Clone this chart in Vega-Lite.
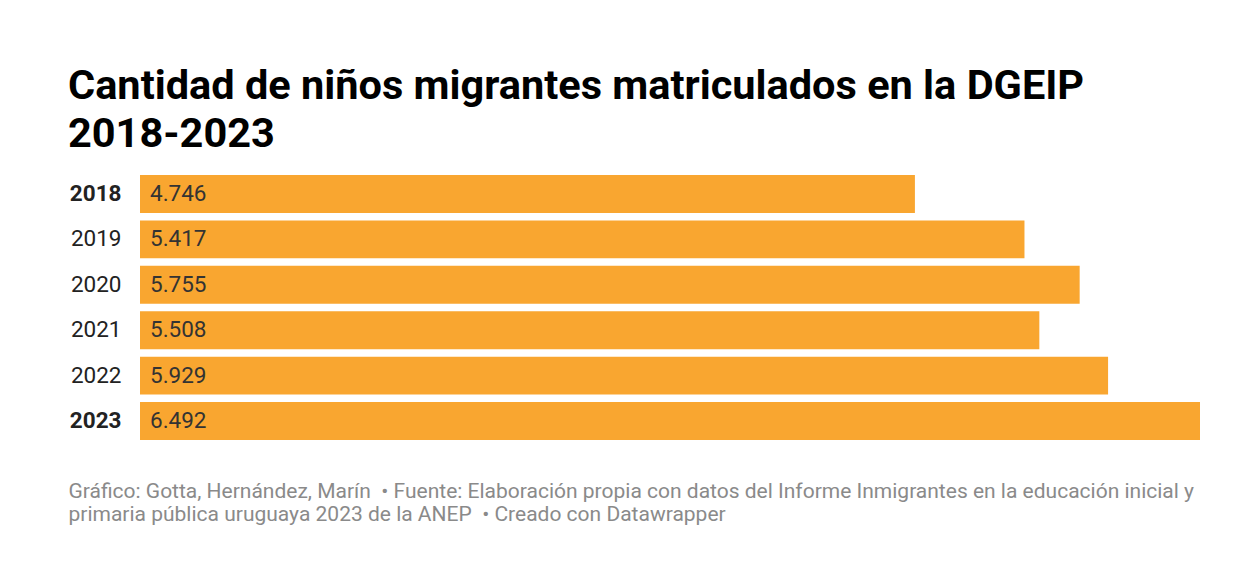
{
  "$schema": "https://vega.github.io/schema/vega-lite/v6.json",
  "width": 1060,
  "height": 265,
  "autosize": "none",
  "padding": {"left": 140, "top": 175, "right": 59, "bottom": 141},
  "background": "#ffffff",
  "config": {
    "font": "Roboto",
    "view": {"stroke": null},
    "locale": {"number": {"decimal": ",", "thousands": ".", "grouping": [3], "currency": ["$", ""]}}
  },
  "title": {
    "text": ["Cantidad de niños migrantes matriculados en la DGEIP", "2018-2023"],
    "anchor": "start",
    "frame": "group",
    "dx": -72,
    "offset": 20,
    "fontSize": 41.5,
    "fontWeight": "bold",
    "font": "Roboto",
    "color": "#000000",
    "lineHeight": 48
  },
  "data": {
    "values": [
      {"year": "2018", "value": 4746},
      {"year": "2019", "value": 5417},
      {"year": "2020", "value": 5755},
      {"year": "2021", "value": 5508},
      {"year": "2022", "value": 5929},
      {"year": "2023", "value": 6492}
    ]
  },
  "encoding": {
    "y": {
      "field": "year",
      "type": "nominal",
      "sort": null,
      "scale": {"paddingInner": 0.165, "paddingOuter": 0},
      "axis": {
        "title": null,
        "ticks": false,
        "domain": false,
        "labelPadding": 19,
        "labelFontSize": 22.5,
        "labelColor": "#222222",
        "labelFont": "Roboto",
        "labelFontWeight": {"condition": {"test": "datum.value == '2018' || datum.value == '2023'", "value": "bold"}, "value": "normal"}
      }
    }
  },
  "layer": [
    {
      "mark": {"type": "bar", "color": "#f9a630"},
      "encoding": {
        "x": {
          "field": "value",
          "type": "quantitative",
          "scale": {"domain": [0, 6492], "nice": false},
          "axis": {
            "labels": false,
            "ticks": false,
            "domain": false,
            "grid": false,
            "title": [
              "Gráfico: Gotta, Hernández, Marín\u00a0 • Fuente: Elaboración propia con datos del Informe Inmigrantes en la educación inicial y",
              "primaria pública uruguaya 2023 de la ANEP\u00a0 • Creado con Datawrapper"
            ],
            "titleAnchor": "start",
            "titleAlign": "left",
            "titleBaseline": "alphabetic",
            "titleX": -72,
            "titleY": 57,
            "titleFont": "Roboto",
            "titleFontSize": 21,
            "titleFontWeight": "normal",
            "titleColor": "#8a8a8a",
            "titleLineHeight": 23
          }
        }
      }
    },
    {
      "mark": {"type": "text", "align": "left", "baseline": "middle", "dx": 10, "fontSize": 22.5, "color": "#333333", "font": "Roboto"},
      "encoding": {
        "x": {"datum": 0, "type": "quantitative"},
        "text": {"field": "value", "type": "quantitative", "format": ",d"}
      }
    }
  ]
}
